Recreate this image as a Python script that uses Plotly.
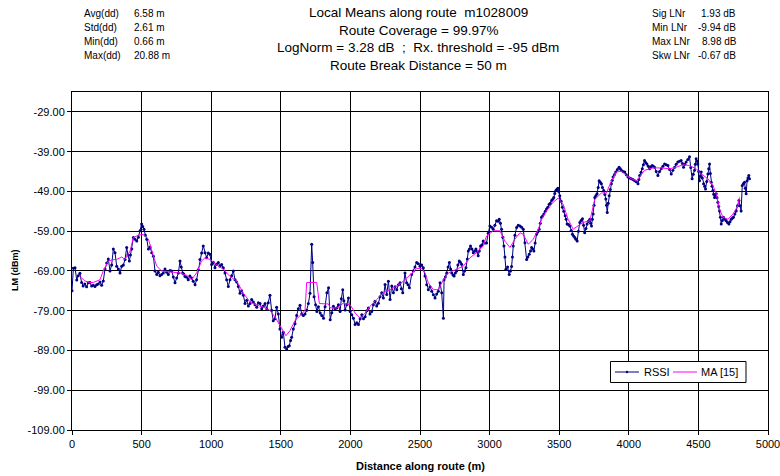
import plotly.graph_objects as go

# RSSI local means along the route: distance (m) and level (dBm)
rssi_dist = [
    0, 10, 22, 34, 45, 57, 69, 80, 92, 105, 117, 129, 141, 153, 165, 177, 189, 201, 213, 225,
    237, 249, 261, 273, 285, 297, 309, 321, 333, 345, 357, 369, 381, 393, 402, 412, 420, 429, 441, 453,
    465, 477, 489, 500, 508, 517, 527, 537, 549, 561, 573, 585, 596, 609, 620, 632, 644, 656, 668, 680,
    692, 704, 716, 728, 740, 752, 764, 776, 785, 795, 803, 812, 824, 835, 847, 859, 871, 884, 895, 907,
    919, 931, 943, 955, 967, 979, 991, 1003, 1015, 1027, 1039, 1051, 1063, 1075, 1087, 1099, 1111, 1123, 1135, 1147,
    1159, 1171, 1183, 1195, 1207, 1219, 1231, 1243, 1255, 1267, 1279, 1291, 1303, 1315, 1327, 1339, 1351, 1363, 1375, 1387,
    1399, 1410, 1422, 1434, 1446, 1458, 1470, 1482, 1494, 1506, 1518, 1530, 1542, 1552, 1561, 1570, 1578, 1590, 1602, 1614,
    1626, 1638, 1650, 1662, 1674, 1686, 1698, 1710, 1722, 1729, 1739, 1750, 1759, 1770, 1783, 1794, 1807, 1818, 1831, 1843,
    1855, 1866, 1878, 1890, 1902, 1914, 1926, 1935, 1945, 1953, 1962, 1974, 1986, 1998, 2010, 2022, 2034, 2046, 2058, 2070,
    2082, 2094, 2106, 2118, 2129, 2141, 2153, 2165, 2177, 2189, 2201, 2213, 2225, 2237, 2249, 2261, 2273, 2285, 2297, 2309,
    2321, 2333, 2345, 2357, 2366, 2376, 2392, 2404, 2414, 2424, 2440, 2452, 2464, 2476, 2488, 2500, 2512, 2524, 2536, 2548,
    2560, 2572, 2584, 2596, 2608, 2620, 2632, 2644, 2656, 2668, 2673, 2682, 2692, 2702, 2711, 2720, 2728, 2737, 2745, 2754,
    2763, 2772, 2782, 2790, 2799, 2811, 2820, 2830, 2840, 2847, 2855, 2863, 2873, 2883, 2892, 2902, 2910, 2918, 2926, 2935,
    2944, 2954, 2966, 2978, 2990, 3002, 3014, 3026, 3038, 3050, 3060, 3069, 3078, 3086, 3095, 3103, 3110, 3117, 3129, 3141,
    3150, 3158, 3164, 3170, 3182, 3194, 3206, 3218, 3230, 3242, 3254, 3266, 3275, 3285, 3294, 3302, 3310, 3318, 3327, 3337,
    3346, 3356, 3364, 3373, 3381, 3390, 3400, 3409, 3418, 3428, 3436, 3445, 3453, 3461, 3468, 3476, 3483, 3490, 3497, 3504,
    3514, 3523, 3533, 3543, 3550, 3557, 3567, 3576, 3586, 3595, 3603, 3612, 3620, 3629, 3638, 3648, 3657, 3667, 3675, 3683,
    3692, 3700, 3710, 3720, 3726, 3732, 3738, 3744, 3750, 3756, 3764, 3772, 3780, 3787, 3795, 3803, 3811, 3820, 3828, 3835,
    3840, 3845, 3852, 3859, 3867, 3875, 3881, 3887, 3896, 3906, 3918, 3930, 3939, 3947, 3959, 3971, 3982, 3994, 4006, 4018,
    4030, 4042, 4054, 4066, 4072, 4078, 4088, 4097, 4105, 4113, 4121, 4130, 4140, 4149, 4158, 4168, 4176, 4185, 4197, 4209,
    4221, 4233, 4245, 4257, 4269, 4281, 4293, 4305, 4317, 4329, 4340, 4352, 4364, 4376, 4385, 4393, 4402, 4412, 4424, 4436,
    4445, 4455, 4463, 4472, 4478, 4484, 4490, 4496, 4502, 4508, 4514, 4520, 4528, 4537, 4545, 4551, 4560, 4568, 4574, 4580,
    4586, 4592, 4598, 4604, 4610, 4616, 4622, 4628, 4634, 4640, 4646, 4652, 4658, 4664, 4672, 4680, 4690, 4699, 4709, 4719,
    4727, 4736, 4744, 4752, 4762, 4772, 4781, 4791, 4799, 4807, 4815, 4823, 4831, 4837, 4843, 4850, 4856, 4862, 4867,
]
rssi_dbm = [
    -74.0, -68.3, -68.2, -71.3, -70.2, -69.6, -71.9, -72.8, -72.3, -73.0, -72.0, -71.9, -72.8, -72.6, -72.9, -72.5, -72.3, -71.8, -72.6, -71.5,
    -68.5, -67.0, -66.0, -69.0, -67.5, -63.5, -64.4, -67.8, -68.5, -69.5, -67.8, -67.5, -66.1, -63.1, -65.0, -66.5, -65.0, -63.5, -60.6, -61.0,
    -61.5, -60.5, -58.9, -57.2, -57.8, -58.5, -60.0, -61.0, -63.5, -63.0, -64.4, -65.3, -69.0, -69.9, -69.3, -70.2, -69.9, -69.5, -68.5, -69.3,
    -69.9, -68.9, -69.0, -70.5, -72.0, -70.8, -69.5, -66.5, -68.0, -69.5, -69.8, -70.4, -70.6, -71.2, -70.3, -70.8, -71.6, -72.5, -71.2, -68.7,
    -66.1, -64.5, -62.7, -64.4, -65.7, -64.5, -64.8, -67.4, -66.8, -68.2, -67.3, -66.9, -67.8, -67.4, -68.2, -69.5, -71.2, -72.9, -71.2, -70.2,
    -69.0, -71.2, -71.8, -72.9, -74.6, -74.0, -75.1, -77.2, -76.4, -77.8, -77.2, -76.2, -76.8, -77.5, -78.1, -77.0, -77.2, -78.5, -77.8, -77.2,
    -78.5, -77.0, -75.1, -78.9, -81.5, -81.0, -78.1, -79.8, -83.6, -85.7, -84.4, -88.2, -88.6, -88.0, -87.8, -86.5, -85.7, -83.6, -82.3, -80.2,
    -78.5, -77.6, -79.8, -80.2, -79.8, -78.9, -77.2, -74.6, -62.3, -66.9, -75.5, -77.5, -79.2, -78.0, -79.6, -80.2, -80.9, -78.0, -74.5, -73.2,
    -81.3, -79.5, -77.9, -78.5, -78.3, -77.5, -79.2, -76.0, -73.7, -76.5, -78.8, -77.5, -75.8, -79.2, -80.0, -80.9, -82.5, -82.0, -82.5, -81.0,
    -80.0, -81.0, -80.5, -79.0, -78.3, -79.8, -79.2, -77.5, -76.6, -77.8, -77.1, -75.5, -74.5, -75.8, -72.4, -74.9, -71.6, -76.2, -72.8, -74.5,
    -73.0, -73.7, -72.5, -72.0, -73.5, -74.5, -69.5, -72.0, -72.5, -73.2, -69.9, -69.0, -68.0, -66.9, -67.2, -67.8, -67.5, -68.2, -70.3, -72.5,
    -73.7, -73.0, -74.1, -75.0, -75.8, -74.8, -74.1, -72.0, -74.5, -80.9, -71.2, -70.5, -69.5, -68.0, -66.9, -68.5, -69.5, -70.0, -70.3, -69.5,
    -69.0, -67.5, -66.5, -66.8, -67.3, -69.9, -69.0, -68.2, -66.0, -64.0, -63.5, -62.7, -63.5, -64.4, -64.0, -63.5, -64.2, -65.2, -64.0, -62.7,
    -62.5, -61.5, -62.0, -62.0, -59.5, -57.7, -58.0, -58.5, -57.5, -56.4, -56.5, -56.0, -57.0, -58.5, -60.5, -62.7, -65.5, -68.6, -68.0, -69.9,
    -69.0, -67.9, -65.5, -62.7, -60.0, -58.1, -57.5, -57.7, -58.0, -58.5, -61.9, -66.1, -65.5, -64.8, -64.0, -63.1, -63.5, -64.0, -62.0, -59.8,
    -59.2, -58.5, -57.0, -55.5, -55.2, -54.7, -54.0, -53.4, -53.0, -52.2, -52.0, -51.3, -51.0, -50.5, -49.5, -48.8, -48.5, -48.2, -49.0, -50.1,
    -51.5, -53.0, -54.0, -55.1, -56.0, -57.2, -57.3, -57.7, -58.8, -59.8, -60.2, -60.6, -61.0, -61.5, -59.0, -56.8, -56.3, -55.9, -57.5, -59.4,
    -58.3, -57.2, -56.5, -56.0, -57.0, -57.7, -56.0, -54.7, -52.5, -50.5, -50.0, -49.6, -48.0, -46.3, -46.7, -47.1, -48.0, -48.8, -49.8, -50.9,
    -52.5, -54.3, -52.0, -50.1, -48.5, -47.1, -46.2, -45.4, -44.8, -44.1, -43.5, -42.9, -43.3, -43.7, -44.0, -44.1, -44.8, -45.4, -45.6, -45.8,
    -46.0, -46.3, -46.6, -47.1, -46.0, -45.0, -44.2, -43.3, -42.3, -41.2, -41.7, -42.1, -42.7, -43.3, -42.8, -42.5, -42.7, -42.9, -44.0, -45.0,
    -44.0, -43.3, -42.7, -42.1, -42.3, -42.5, -43.5, -44.6, -43.7, -42.9, -42.2, -41.6, -41.4, -41.2, -42.0, -42.9, -42.2, -41.6, -41.0, -40.3,
    -43.0, -45.8, -44.7, -43.7, -42.2, -40.8, -41.4, -42.1, -44.0, -46.3, -45.2, -44.1, -45.6, -47.1, -47.7, -48.4, -46.5, -44.6, -43.3, -42.1,
    -44.5, -46.7, -47.7, -48.8, -49.7, -50.5, -50.0, -49.6, -50.6, -51.7, -52.8, -53.9, -55.5, -57.2, -56.3, -55.5, -56.0, -56.4, -56.8, -57.2,
    -56.6, -56.0, -55.7, -55.5, -54.7, -53.9, -52.6, -51.3, -52.6, -53.9, -47.5, -47.1, -46.7, -48.2, -49.6, -46.3, -45.6, -45.0, -45.8,
]

# 15-sample moving average of the local means
ma_dist = [
    57, 92, 125, 153, 201, 225, 261, 290, 321, 345, 357, 381, 417, 441, 477, 513, 549, 585, 609, 644,
    704, 776, 824, 859, 895, 931, 955, 991, 1039, 1087, 1135, 1183, 1231, 1279, 1327, 1375, 1422, 1458, 1494, 1537,
    1566, 1602, 1650, 1674, 1686, 1758, 1777, 1842, 1855, 1902, 1950, 1998, 2034, 2070, 2106, 2141, 2189, 2237, 2285, 2333,
    2380, 2428, 2476, 2512, 2536, 2560, 2596, 2632, 2668, 2704, 2763, 2811, 2859, 2907, 2954, 2978, 3026, 3074, 3110, 3146,
    3182, 3218, 3242, 3278, 3314, 3350, 3373, 3409, 3457, 3493, 3528, 3564, 3600, 3636, 3672, 3720, 3756, 3803, 3839, 3875,
    3911, 3947, 3983, 4018, 4054, 4078, 4113, 4173, 4233, 4293, 4341, 4388, 4436, 4484, 4520, 4568, 4604, 4628, 4652, 4676,
    4712, 4748, 4784, 4795,
]
ma_dbm = [
    -70.4, -71.5, -71.9, -71.9, -71.2, -69.0, -66.5, -66.2, -66.1, -65.6, -65.5, -66.1, -64.0, -60.6, -60.0, -59.8, -61.0, -65.3, -67.8, -69.0,
    -69.3, -69.5, -70.1, -71.2, -69.5, -66.5, -65.7, -66.1, -67.4, -68.6, -70.4, -71.5, -74.6, -76.8, -77.6, -78.1, -78.9, -80.6, -82.7, -85.3,
    -84.0, -81.5, -79.8, -78.9, -71.9, -71.9, -77.2, -77.3, -78.3, -78.3, -77.1, -77.5, -79.6, -80.9, -79.6, -77.9, -76.2, -74.5, -73.7, -72.8,
    -71.6, -69.9, -68.4, -68.4, -69.5, -72.0, -73.7, -73.7, -71.2, -69.5, -68.6, -67.8, -65.7, -64.4, -62.7, -60.2, -58.9, -58.9, -61.5, -63.1,
    -61.0, -59.4, -59.8, -62.3, -61.0, -58.5, -56.0, -53.9, -51.7, -50.7, -52.2, -56.0, -58.5, -57.7, -56.8, -56.4, -51.0, -49.4, -49.4, -46.3,
    -44.1, -43.9, -45.0, -45.8, -46.3, -45.4, -43.7, -43.1, -43.1, -43.3, -42.9, -42.3, -42.5, -43.3, -44.6, -45.8, -47.5, -49.6, -53.4, -55.5,
    -56.0, -54.7, -52.6, -50.5,
]

y_ticks = [-109, -99, -89, -79, -69, -59, -49, -39, -29]
x_ticks = [0, 500, 1000, 1500, 2000, 2500, 3000, 3500, 4000, 4500, 5000]

title_lines = [
    "Local Means along route  m1028009",
    "Route Coverage = 99.97%",
    "LogNorm = 3.28 dB  ;  Rx. threshold = -95 dBm",
    "Route Break Distance = 50 m",
]
left_labels = ["Avg(dd)", "Std(dd)", "Min(dd)", "Max(dd)"]
left_values = ["6.58 m", "2.61 m", "0.66 m", "20.88 m"]
right_labels = ["Sig LNr", "Min LNr", "Max LNr", "Skw LNr"]
right_values = ["1.93 dB", "-9.94 dB", "8.98 dB", "-0.67 dB"]

RSSI_COLOR = "#000080"
MA_COLOR = "#FF00FF"

W, H = 780, 476
L, R, T, B = 72, 12, 92, 46
FONT = "Liberation Sans, Arial, sans-serif"


def px_x(p):
    return (p - L) / (W - L - R)


def px_y(p):
    return (H - B - p) / (H - T - B)


fig = go.Figure()
fig.add_trace(go.Scatter(
    x=rssi_dist, y=rssi_dbm, name="RSSI", mode="lines+markers",
    line=dict(color=RSSI_COLOR, width=1),
    marker=dict(color=RSSI_COLOR, size=3, symbol="circle"),
    showlegend=False,
))
fig.add_trace(go.Scatter(
    x=ma_dist, y=ma_dbm, name="MA [15]", mode="lines",
    line=dict(color=MA_COLOR, width=1),
    showlegend=False,
))

ann = []
for i, t in enumerate(title_lines):
    ann.append(dict(text=t, x=px_x(418), y=px_y(12.5 + 17.7 * i), xanchor="center", yanchor="middle",
                    font=dict(size=13.5, color="black")))
for i, (lab, val) in enumerate(zip(left_labels, left_values)):
    yy = px_y(13 + 14 * i)
    ann.append(dict(text=lab, x=px_x(82), y=yy, xanchor="left", yanchor="middle", font=dict(size=10, color="black")))
    ann.append(dict(text=val, x=px_x(132), y=yy, xanchor="left", yanchor="middle", font=dict(size=10, color="black")))
right_val_x = [699, 696, 700, 696]
for i, (lab, val) in enumerate(zip(right_labels, right_values)):
    yy = px_y(13 + 14 * i)
    ann.append(dict(text=lab, x=px_x(650), y=yy, xanchor="left", yanchor="middle", font=dict(size=10, color="black")))
    ann.append(dict(text=val, x=px_x(right_val_x[i]), y=yy, xanchor="left", yanchor="middle", font=dict(size=10, color="black")))
ann.append(dict(text="<b>Distance along route (m)</b>", x=px_x(420), y=px_y(466), xanchor="center", yanchor="middle",
                font=dict(size=11, color="black")))
ann.append(dict(text="<b>LM (dBm)</b>", x=px_x(15), y=px_y(270), xanchor="center", yanchor="middle", textangle=-90,
                font=dict(size=9, color="black")))

# Legend box drawn in paper space: short line keys with labels
leg_y = 372
ann.append(dict(text="RSSI", x=px_x(642), y=px_y(leg_y), xanchor="left", yanchor="middle", font=dict(size=11, color="black")))
ann.append(dict(text="MA [15]", x=px_x(699), y=px_y(leg_y), xanchor="left", yanchor="middle", font=dict(size=11, color="black")))
for a in ann:
    a.update(xref="paper", yref="paper", showarrow=False)

shapes = [
    dict(type="rect", x0=px_x(610.5), x1=px_x(746), y0=px_y(361.5), y1=px_y(382.5),
         line=dict(color="black", width=1), fillcolor="white", layer="above"),
    dict(type="line", x0=px_x(615), x1=px_x(639), y0=px_y(leg_y), y1=px_y(leg_y),
         line=dict(color=RSSI_COLOR, width=1), layer="above"),
    dict(type="circle", x0=px_x(625.8), x1=px_x(628.2), y0=px_y(370.8), y1=px_y(373.2),
         line=dict(color=RSSI_COLOR, width=0), fillcolor=RSSI_COLOR, layer="above"),
    dict(type="line", x0=px_x(673), x1=px_x(697), y0=px_y(leg_y), y1=px_y(leg_y),
         line=dict(color=MA_COLOR, width=1), layer="above"),
]
for s in shapes:
    s.update(xref="paper", yref="paper")

fig.update_layout(
    width=W, height=H,
    margin=dict(l=L, r=R, t=T, b=B, autoexpand=False),
    paper_bgcolor="white", plot_bgcolor="white",
    font=dict(family=FONT, size=11, color="black"),
    annotations=ann,
    shapes=shapes,
    showlegend=False,
    xaxis=dict(
        range=[0, 5000], tickvals=x_ticks, ticktext=[str(v) for v in x_ticks],
        showgrid=True, gridcolor="black", gridwidth=1,
        showline=True, linecolor="black", linewidth=1, mirror=True,
        ticks="outside", ticklen=4, tickcolor="black", zeroline=False,
        tickfont=dict(size=11), ticklabeloverflow="allow", automargin=False,
    ),
    yaxis=dict(
        range=[-109, -24], tickvals=y_ticks, ticktext=[f"{v:.2f}" for v in y_ticks],
        showgrid=True, gridcolor="black", gridwidth=1,
        showline=True, linecolor="black", linewidth=1, mirror=True,
        ticks="outside", ticklen=4, tickcolor="black", zeroline=False,
        tickfont=dict(size=11), automargin=False,
    ),
)

fig.write_html("out.html")
